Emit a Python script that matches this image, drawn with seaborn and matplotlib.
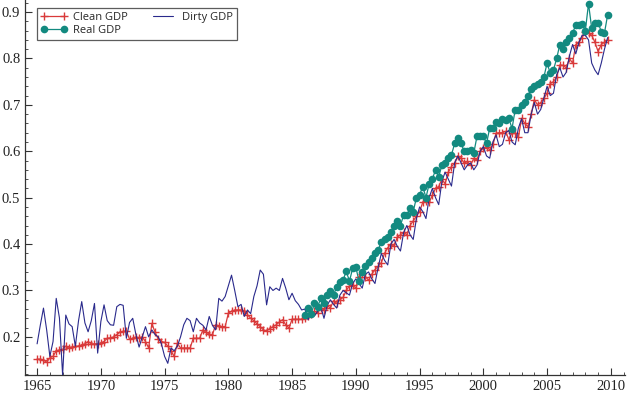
import numpy as np
import pandas as pd
import matplotlib
matplotlib.use("Agg")
import matplotlib.pyplot as plt
import seaborn as sns
from matplotlib.ticker import MultipleLocator

# ---- data (quarterly, 1965Q1 .. 2009Q4) ----
start_year = 1965
clean_gdp = [
    0.152, 0.152, 0.150, 0.145,  # 1965
    0.155, 0.158, 0.170, 0.172,  # 1966
    0.173, 0.180, 0.175, 0.178,  # 1967
    0.180, 0.180, 0.183, 0.185,  # 1968
    0.190, 0.185, 0.185, 0.185,  # 1969
    0.187, 0.190, 0.197, 0.198,  # 1970
    0.200, 0.205, 0.210, 0.212,  # 1971
    0.213, 0.195, 0.197, 0.200,  # 1972
    0.198, 0.200, 0.190, 0.176,  # 1973
    0.229, 0.210, 0.195, 0.190,  # 1974
    0.188, 0.180, 0.170, 0.158,  # 1975
    0.186, 0.176, 0.176, 0.176,  # 1976
    0.176, 0.197, 0.197, 0.197,  # 1977
    0.215, 0.210, 0.206, 0.204,  # 1978
    0.226, 0.224, 0.222, 0.222,  # 1979
    0.251, 0.255, 0.258, 0.258,  # 1980
    0.258, 0.255, 0.248, 0.240,  # 1981
    0.235, 0.228, 0.222, 0.215,  # 1982
    0.213, 0.218, 0.222, 0.226,  # 1983
    0.232, 0.237, 0.226, 0.219,  # 1984
    0.238, 0.238, 0.238, 0.238,  # 1985
    0.240, 0.245, 0.250, 0.255,  # 1986
    0.252, 0.262, 0.258, 0.268,  # 1987
    0.262, 0.278, 0.272, 0.280,  # 1988
    0.285, 0.300, 0.310, 0.312,  # 1989
    0.305, 0.330, 0.335, 0.330,  # 1990
    0.322, 0.335, 0.345, 0.352,  # 1991
    0.360, 0.380, 0.392, 0.400,  # 1992
    0.395, 0.415, 0.420, 0.425,  # 1993
    0.420, 0.440, 0.450, 0.460,  # 1994
    0.470, 0.490, 0.492, 0.490,  # 1995
    0.505, 0.520, 0.524, 0.540,  # 1996
    0.530, 0.555, 0.567, 0.575,  # 1997
    0.589, 0.585, 0.574, 0.578,  # 1998
    0.570, 0.585, 0.581, 0.600,  # 1999
    0.607, 0.610, 0.603, 0.615,  # 2000
    0.639, 0.640, 0.640, 0.643,  # 2001
    0.625, 0.640, 0.639, 0.630,  # 2002
    0.671, 0.660, 0.653, 0.680,  # 2003
    0.711, 0.700, 0.705, 0.714,  # 2004
    0.725, 0.746, 0.750, 0.760,  # 2005
    0.786, 0.785, 0.780, 0.800,  # 2006
    0.790, 0.830, 0.835, 0.845,  # 2007
    0.858, 0.855, 0.850, 0.835,  # 2008
    0.815, 0.830, 0.835, 0.840,  # 2009
]
dirty_gdp = [
    0.185, 0.225, 0.262, 0.215,  # 1965
    0.158, 0.190, 0.283, 0.241,  # 1966
    0.118, 0.247, 0.228, 0.222,  # 1967
    0.180, 0.235, 0.276, 0.230,  # 1968
    0.211, 0.235, 0.272, 0.165,  # 1969
    0.233, 0.269, 0.235, 0.226,  # 1970
    0.225, 0.265, 0.270, 0.268,  # 1971
    0.197, 0.231, 0.240, 0.205,  # 1972
    0.178, 0.200, 0.222, 0.200,  # 1973
    0.215, 0.205, 0.200, 0.185,  # 1974
    0.158, 0.143, 0.176, 0.170,  # 1975
    0.180, 0.200, 0.226, 0.240,  # 1976
    0.235, 0.211, 0.240, 0.230,  # 1977
    0.225, 0.215, 0.244, 0.225,  # 1978
    0.215, 0.283, 0.277, 0.287,  # 1979
    0.310, 0.333, 0.300, 0.265,  # 1980
    0.270, 0.244, 0.258, 0.250,  # 1981
    0.287, 0.310, 0.344, 0.335,  # 1982
    0.269, 0.308, 0.300, 0.305,  # 1983
    0.300, 0.326, 0.305, 0.280,  # 1984
    0.294, 0.278, 0.270, 0.258,  # 1985
    0.260, 0.237, 0.255, 0.245,  # 1986
    0.255, 0.265, 0.240, 0.268,  # 1987
    0.280, 0.270, 0.262, 0.290,  # 1988
    0.300, 0.295, 0.290, 0.315,  # 1989
    0.325, 0.315, 0.305, 0.335,  # 1990
    0.340, 0.325, 0.315, 0.350,  # 1991
    0.380, 0.365, 0.355, 0.400,  # 1992
    0.410, 0.395, 0.385, 0.425,  # 1993
    0.440, 0.420, 0.410, 0.455,  # 1994
    0.480, 0.470, 0.455, 0.500,  # 1995
    0.520, 0.500, 0.485, 0.535,  # 1996
    0.555, 0.540, 0.525, 0.575,  # 1997
    0.590, 0.575, 0.560, 0.570,  # 1998
    0.575, 0.560, 0.570, 0.600,  # 1999
    0.610, 0.590, 0.585, 0.620,  # 2000
    0.635, 0.610, 0.615, 0.640,  # 2001
    0.645, 0.620, 0.614, 0.650,  # 2002
    0.670, 0.640, 0.640, 0.680,  # 2003
    0.705, 0.680, 0.690, 0.715,  # 2004
    0.740, 0.720, 0.725, 0.765,  # 2005
    0.780, 0.760, 0.770, 0.805,  # 2006
    0.830, 0.810, 0.835, 0.850,  # 2007
    0.850, 0.840, 0.790, 0.775,  # 2008
    0.765, 0.790, 0.820, 0.845,  # 2009
]
real_start_year = 1986
real_gdp = [
    0.247, 0.262, 0.250, 0.272,  # 1986
    0.265, 0.283, 0.272, 0.290,  # 1987
    0.298, 0.290, 0.308, 0.318,  # 1988
    0.323, 0.341, 0.320, 0.348,  # 1989
    0.350, 0.320, 0.340, 0.352,  # 1990
    0.362, 0.370, 0.380, 0.387,  # 1991
    0.405, 0.410, 0.415, 0.427,  # 1992
    0.438, 0.449, 0.440, 0.463,  # 1993
    0.463, 0.477, 0.470, 0.500,  # 1994
    0.506, 0.524, 0.500, 0.530,  # 1995
    0.540, 0.560, 0.545, 0.570,  # 1996
    0.575, 0.585, 0.592, 0.617,  # 1997
    0.628, 0.617, 0.600, 0.600,  # 1998
    0.603, 0.596, 0.632, 0.632,  # 1999
    0.632, 0.617, 0.650, 0.650,  # 2000
    0.664, 0.660, 0.670, 0.668,  # 2001
    0.671, 0.649, 0.690, 0.690,  # 2002
    0.700, 0.707, 0.720, 0.735,  # 2003
    0.740, 0.745, 0.750, 0.760,  # 2004
    0.790, 0.768, 0.775, 0.800,  # 2005
    0.830, 0.820, 0.835, 0.845,  # 2006
    0.855, 0.872, 0.872, 0.875,  # 2007
    0.860, 0.918, 0.865, 0.876,  # 2008
    0.877, 0.858, 0.855, 0.894,  # 2009
]
x_ticks = [1965, 1970, 1975, 1980, 1985, 1990, 1995, 2000, 2005, 2010]
y_ticks = [0.2, 0.3, 0.4, 0.5, 0.6, 0.7, 0.8, 0.9]

years = start_year + np.arange(len(clean_gdp)) / 4.0
real_years = real_start_year + np.arange(len(real_gdp)) / 4.0
df = pd.DataFrame({"year": years, "clean": clean_gdp, "dirty": dirty_gdp})
df_real = pd.DataFrame({"year": real_years, "real": real_gdp})

sns.set_theme(style="ticks")
plt.rcParams["font.family"] = ["DejaVu Sans"]

fig = plt.figure(figsize=(6.28, 3.93), dpi=100)
ax = fig.add_axes([0.040, 0.046, 0.955, 0.954])

red = "#d93a3a"
navy = "#2a2a8c"
teal = "#138a80"

sns.lineplot(data=df, x="year", y="clean", ax=ax, color=red, lw=0.9,
             marker="+", markersize=6, markeredgewidth=1.0, markeredgecolor=red,
             label="Clean GDP", zorder=2)
sns.lineplot(data=df, x="year", y="dirty", ax=ax, color=navy, lw=0.8,
             label="Dirty GDP", zorder=3)
sns.lineplot(data=df_real, x="year", y="real", ax=ax, color=teal, lw=0.9,
             marker="o", markersize=5.5, markeredgewidth=0, markerfacecolor=teal,
             label="Real GDP", zorder=4)

ax.set_xlim(1964.06, 2011.1)
ax.set_ylim(0.118, 0.926)
ax.set_xticks(x_ticks, [str(t) for t in x_ticks])
ax.set_yticks(y_ticks, [f"{t:.1f}" for t in y_ticks])
ax.xaxis.set_minor_locator(MultipleLocator(1))
ax.yaxis.set_minor_locator(MultipleLocator(0.02))
ax.tick_params(which="major", direction="in", length=5, width=0.8, colors="#333333",
               labelsize=10.5, labelcolor="#222222", labelfontfamily="Liberation Serif")
ax.tick_params(which="minor", direction="in", length=2.5, width=0.6, colors="#333333")
ax.set_xlabel("")
ax.set_ylabel("")
for s in ["top", "right"]:
    ax.spines[s].set_visible(False)
for s in ["left", "bottom"]:
    ax.spines[s].set_color("#333333")
    ax.spines[s].set_linewidth(0.9)

h, l = ax.get_legend_handles_labels()
order = [l.index("Clean GDP"), l.index("Real GDP"), l.index("Dirty GDP")]
leg = ax.legend([h[i] for i in order], [l[i] for i in order], ncol=2,
                loc="upper left", bbox_to_anchor=(0.019, 0.979),
                frameon=True, fancybox=False, edgecolor="#333333",
                prop={"family": ["Open Sans", "DejaVu Sans"], "size": 8},
                handlelength=2.4, numpoints=2,
                borderpad=0.35, labelspacing=0.2, columnspacing=2.0,
                handletextpad=0.5, borderaxespad=0)
leg.get_frame().set_linewidth(0.9)

fig.savefig("out.png", dpi=100)
